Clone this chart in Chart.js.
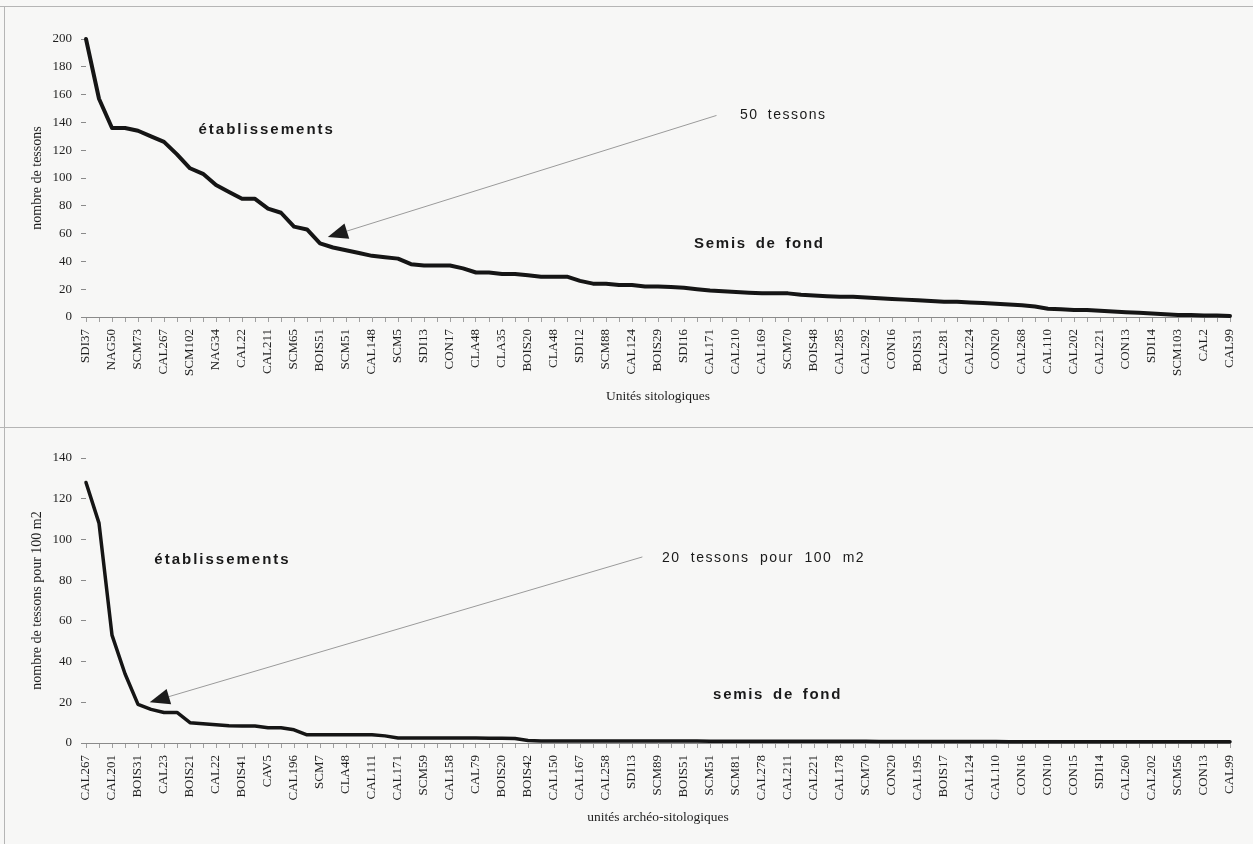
<!DOCTYPE html>
<html>
<head>
<meta charset="utf-8">
<script src="https://cdn.jsdelivr.net/npm/chart.js@4.4.0/dist/chart.umd.min.js"></script>
<style>
  html, body { margin: 0; padding: 0; background: #f7f7f6; }
  #page { position: relative; width: 1253px; height: 844px; overflow: hidden; }
  .box { position: absolute; left: 0; width: 1253px; }
  #topBox { top: 0; height: 428px; }
  #botBox { top: 428px; height: 416px; }
  .rule { position: absolute; background: #b5b5b5; }
</style>
</head>
<body>
<div id="page">
  <div class="box" id="topBox"><canvas id="topChart" width="1253" height="428"></canvas></div>
  <div class="box" id="botBox"><canvas id="botChart" width="1253" height="416"></canvas></div>
  <div class="rule" style="left:0;top:6px;width:1253px;height:1px"></div>
  <div class="rule" style="left:4px;top:6px;width:1px;height:838px"></div>
  <div class="rule" style="left:0;top:427px;width:1253px;height:1px"></div>
</div>
<script>
// top chart: sites ranked by number of sherds (every 2nd unit is named)
var topNames = ['SDI37', 'NAG50', 'SCM73', 'CAL267', 'SCM102', 'NAG34', 'CAL22', 'CAL211', 'SCM65', 'BOIS51',
  'SCM51', 'CAL148', 'SCM5', 'SDI13', 'CON17', 'CLA48', 'CLA35', 'BOIS20', 'CLA48', 'SDI12',
  'SCM88', 'CAL124', 'BOIS29', 'SDI16', 'CAL171', 'CAL210', 'CAL169', 'SCM70', 'BOIS48', 'CAL285',
  'CAL292', 'CON16', 'BOIS31', 'CAL281', 'CAL224', 'CON20', 'CAL268', 'CAL110', 'CAL202', 'CAL221',
  'CON13', 'SDI14', 'SCM103', 'CAL2', 'CAL99'];
var topValues = [200, 157, 136, 136, 134, 130, 126, 117, 107, 103,
  95, 90, 85, 85, 78, 75, 65, 63, 53, 50,
  48, 46, 44, 43, 42, 38, 37, 37, 37, 35,
  32, 32, 31, 31, 30, 29, 29, 29, 26, 24,
  24, 23, 23, 22, 22, 21.5, 21, 20, 19, 18.5,
  18, 17.5, 17, 17, 17, 16, 15.5, 15, 14.5, 14.5,
  14, 13.5, 13, 12.5, 12, 11.5, 11, 11, 10.5, 10,
  9.5, 9, 8.5, 7.5, 6, 5.5, 5, 5, 4.5, 4,
  3.5, 3, 2.5, 2, 1.5, 1.5, 1, 1, 0.7];
var topTicks = [0, 20, 40, 60, 80, 100, 120, 140, 160, 180, 200];

// bottom chart: sherds per 100 m2
var botNames = ['CAL267', 'CAL201', 'BOIS31', 'CAL23', 'BOIS21', 'CAL22', 'BOIS41', 'CAV5', 'CAL196', 'SCM7',
  'CLA48', 'CAL111', 'CAL171', 'SCM59', 'CAL158', 'CAL79', 'BOIS20', 'BOIS42', 'CAL150', 'CAL167',
  'CAL258', 'SDI13', 'SCM89', 'BOIS51', 'SCM51', 'SCM81', 'CAL278', 'CAL211', 'CAL221', 'CAL178',
  'SCM70', 'CON20', 'CAL195', 'BOIS17', 'CAL124', 'CAL110', 'CON16', 'CON10', 'CON15', 'SDI14',
  'CAL260', 'CAL202', 'SCM56', 'CON13', 'CAL99'];
var botValues = [128, 108, 53, 34, 19, 16.5, 15, 15, 10, 9.5,
  9, 8.5, 8.3, 8.3, 7.5, 7.5, 6.5, 4, 4, 4,
  4, 4, 4, 3.5, 2.5, 2.5, 2.5, 2.5, 2.5, 2.4,
  2.4, 2.3, 2.3, 2.2, 1.2, 1, 1, 1, 1, 1,
  1, 1, 1, 1, 1, 1, 1, 1, 0.9, 0.9,
  0.9, 0.9, 0.8, 0.8, 0.8, 0.8, 0.8, 0.8, 0.8, 0.8,
  0.8, 0.7, 0.7, 0.7, 0.7, 0.7, 0.7, 0.7, 0.7, 0.7,
  0.7, 0.6, 0.6, 0.6, 0.6, 0.6, 0.6, 0.6, 0.6, 0.6,
  0.6, 0.6, 0.6, 0.6, 0.6, 0.6, 0.6, 0.6, 0.6];
var botTicks = [0, 20, 40, 60, 80, 100, 120, 140];

var serif = '"Liberation Serif", "Times New Roman", serif';
var sans = '"Liberation Sans", Arial, sans-serif';

// one category per point, name on every second one
function buildCats(names, values) {
  return values.map(function(v, i) { return i % 2 === 0 ? names[i / 2] : ''; });
}

// draws the text notes and the arrow in data units
var notesPlugin = {
  id: 'notes',
  afterDatasetsDraw: function(chart, args, opts) {
    var ctx = chart.ctx;
    var xs = chart.scales.x, ys = chart.scales.y;
    ctx.save();
    var a = opts.arrow;
    if (a) {
      var x1 = xs.getPixelForValue(a.from[0]), y1 = ys.getPixelForValue(a.from[1]);
      var x2 = xs.getPixelForValue(a.to[0]), y2 = ys.getPixelForValue(a.to[1]);
      var ang = Math.atan2(y2 - y1, x2 - x1);
      var len = 20, half = 8;
      var bx = x2 - len * Math.cos(ang), by = y2 - len * Math.sin(ang);
      ctx.strokeStyle = '#9a9a9a';
      ctx.lineWidth = 1;
      ctx.beginPath();
      ctx.moveTo(x1, y1);
      ctx.lineTo(bx, by);
      ctx.stroke();
      ctx.fillStyle = '#1c1c1c';
      ctx.beginPath();
      ctx.moveTo(x2, y2);
      ctx.lineTo(bx + half * Math.sin(ang), by - half * Math.cos(ang));
      ctx.lineTo(bx - half * Math.sin(ang), by + half * Math.cos(ang));
      ctx.closePath();
      ctx.fill();
    }
    (opts.labels || []).forEach(function(l) {
      ctx.font = (l.bold ? 'bold ' : '') + l.size + 'px ' + sans;
      ctx.fillStyle = '#1a1a1a';
      ctx.textAlign = l.align || 'center';
      ctx.textBaseline = 'middle';
      ctx.letterSpacing = (l.spacing || 0) + 'px';
      ctx.wordSpacing = (l.words || 0) + 'px';
      ctx.fillText(l.text, xs.getPixelForValue(l.i), ys.getPixelForValue(l.v));
    });
    ctx.restore();
  }
};

function makeChart(id, cats, values, yMax, yTicks, yTitle, xTitle, pad, xHeight, lineW, notes) {
  var ctx = document.getElementById(id).getContext('2d');
  return new Chart(ctx, {
    type: 'line',
    data: {
      labels: cats,
      datasets: [{
        data: values,
        borderColor: '#151515',
        borderWidth: lineW,
        pointRadius: 0,
        tension: 0,
        borderJoinStyle: 'round',
        borderCapStyle: 'round',
        clip: 8
      }]
    },
    options: {
      responsive: false,
      animation: false,
      events: [],
      layout: { padding: pad },
      plugins: {
        legend: { display: false },
        tooltip: { enabled: false },
        notes: notes
      },
      scales: {
        x: {
          grid: { drawOnChartArea: false, drawTicks: true, tickLength: 5, color: '#a0a0a0' },
          border: { display: true, color: '#8a8a8a', width: 1, dash: [2, 3] },
          ticks: {
            autoSkip: false, minRotation: 90, maxRotation: 90, padding: 7,
            color: '#1e1e1e', font: { family: serif, size: 13 }
          },
          title: { display: true, text: xTitle, color: '#1e1e1e', font: { family: serif, size: 13.5 } },
          afterFit: function(s) { s.height = xHeight; }
        },
        y: {
          min: 0, max: yMax,
          afterBuildTicks: function(s) { s.ticks = yTicks.map(function(v) { return { value: v }; }); },
          grid: { drawOnChartArea: false, drawTicks: true, tickLength: 5, color: '#8a8a8a' },
          border: { display: false },
          ticks: { padding: 9, color: '#1e1e1e', font: { family: serif, size: 13 } },
          title: { display: true, text: yTitle, color: '#1e1e1e', font: { family: serif, size: 14 } },
          afterFit: function(s) { s.width = 61; }
        }
      }
    },
    plugins: [notesPlugin]
  });
}

makeChart('topChart', buildCats(topNames, topValues), topValues, 200, topTicks,
  'nombre de tessons', 'Unités sitologiques',
  { left: 25, right: 23, top: 39, bottom: 19 }, 92, 4,
  {
    arrow: { from: [48.5, 145], to: [18.6, 57.5] },
    labels: [
      { text: 'établissements', i: 13.9, v: 134.5, bold: true, size: 15, spacing: 2 },
      { text: '50 tessons', i: 50.3, v: 145, size: 14, spacing: 1.5, words: 4, align: 'left' },
      { text: 'Semis de fond', i: 51.8, v: 52.5, bold: true, size: 15, spacing: 1.7, words: 3 }
    ]
  });

makeChart('botChart', buildCats(botNames, botValues), botValues, 140, botTicks,
  'nombre de tessons pour 100 m2', 'unités archéo-sitologiques',
  { left: 25, right: 23, top: 30, bottom: 14 }, 87, 3.5,
  {
    arrow: { from: [42.8, 91.4], to: [4.9, 20] },
    labels: [
      { text: 'établissements', i: 10.5, v: 90, bold: true, size: 15, spacing: 2 },
      { text: '20 tessons pour 100 m2', i: 44.3, v: 91, size: 14, spacing: 1.5, words: 5, align: 'left' },
      { text: 'semis de fond', i: 53.2, v: 23.6, bold: true, size: 15, spacing: 1.7, words: 3 }
    ]
  });
</script>
</body>
</html>
